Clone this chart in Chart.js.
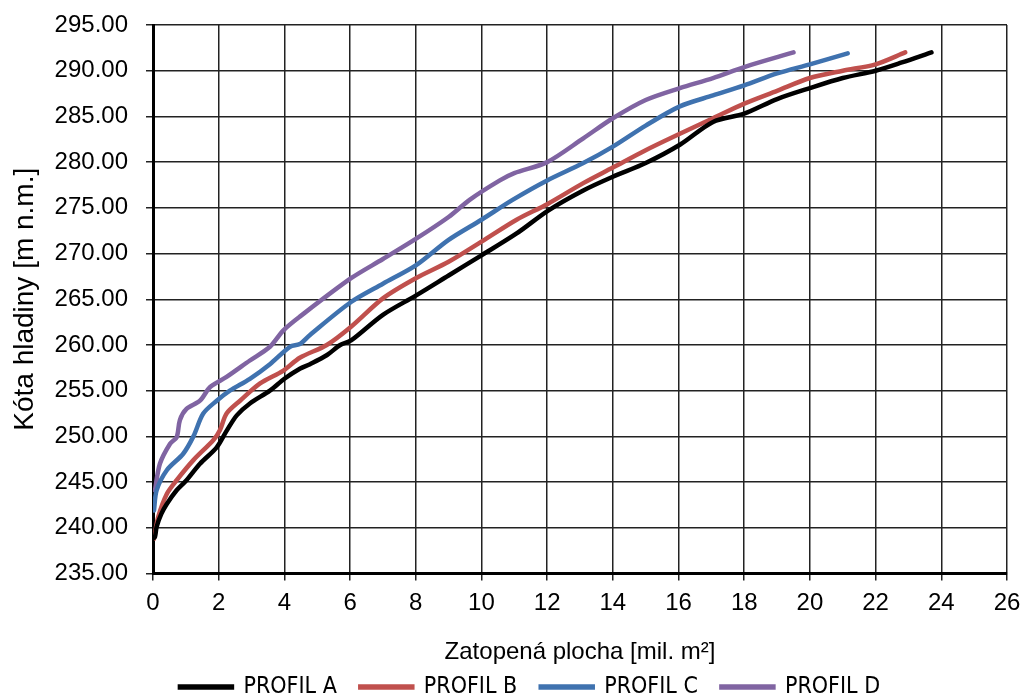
<!DOCTYPE html>
<html>
<head>
<meta charset="utf-8">
<script src="https://cdn.jsdelivr.net/npm/chart.js@4/dist/chart.umd.min.js"></script>
<style>
  html, body { margin: 0; padding: 0; background: #fff; }
  #wrap { width: 1026px; height: 698px; }
</style>
</head>
<body>
<div id="wrap"><canvas id="curveChart" width="1026" height="698"></canvas></div>
<script>
// plocha [mil. m2] a kóta [m n.m.] pro každý profil
const xA = [0.0, 0.06, 0.11, 0.25, 0.42, 0.72, 1.02, 1.43, 1.94, 2.24, 2.55, 2.95, 3.56, 4.0, 4.47, 4.78, 5.3, 5.7, 6.03, 7.0, 8.0, 9.0, 10.0, 11.07, 12.03, 13.1, 14.0, 15.0, 16.04, 17.05, 18.0, 19.0, 20.0, 21.0, 22.0, 22.8, 23.7];
const yA = [238.8, 239.0, 240.1, 241.5, 242.6, 244.1, 245.2, 247.0, 248.8, 250.6, 252.3, 253.6, 255.0, 256.3, 257.4, 257.9, 258.9, 260.0, 260.5, 263.3, 265.4, 267.6, 269.8, 272.2, 274.7, 276.9, 278.4, 279.9, 281.9, 284.4, 285.3, 286.9, 288.1, 289.2, 290.0, 290.9, 292.0];

const xB = [0.03, 0.16, 0.42, 0.72, 1.23, 1.84, 2.04, 2.24, 2.65, 3.26, 3.97, 4.47, 5.29, 6.03, 7.0, 8.0, 9.0, 10.0, 11.07, 12.0, 13.1, 14.0, 15.0, 16.04, 17.05, 18.0, 19.0, 20.0, 21.0, 22.0, 22.9];
const yB = [238.8, 241.2, 243.7, 245.2, 247.4, 249.6, 250.7, 252.5, 253.9, 255.8, 257.2, 258.6, 260.0, 262.0, 265.1, 267.3, 269.1, 271.3, 273.7, 275.4, 277.7, 279.4, 281.3, 283.1, 284.8, 286.4, 287.8, 289.2, 290.0, 290.7, 292.0];

const xC = [0.03, 0.11, 0.42, 0.92, 1.23, 1.53, 1.94, 2.34, 2.95, 3.56, 4.17, 4.47, 4.78, 6.03, 7.0, 8.0, 9.0, 10.0, 10.96, 12.0, 13.1, 14.0, 15.0, 16.04, 17.05, 18.0, 19.0, 20.0, 21.15];
const yC = [241.9, 244.1, 246.3, 248.1, 250.0, 252.5, 253.9, 255.0, 256.3, 257.9, 259.8, 260.1, 261.1, 264.7, 266.7, 268.7, 271.5, 273.7, 275.9, 278.0, 279.9, 281.7, 284.0, 286.1, 287.3, 288.4, 289.7, 290.7, 291.9];

const xD = [0.06, 0.21, 0.52, 0.72, 0.82, 1.02, 1.43, 1.74, 2.24, 2.95, 3.56, 3.97, 4.47, 6.03, 7.0, 8.0, 9.0, 9.65, 10.56, 11.0, 12.0, 13.1, 14.0, 15.0, 16.04, 17.05, 18.0, 19.5];
const yD = [244.1, 247.0, 249.2, 249.9, 251.8, 253.0, 253.9, 255.4, 256.5, 258.3, 259.8, 261.6, 263.1, 267.3, 269.4, 271.6, 274.0, 275.9, 278.0, 278.8, 280.0, 282.6, 284.8, 286.8, 288.1, 289.2, 290.4, 292.0];

const seriesNames = ["PROFIL A", "PROFIL B", "PROFIL C", "PROFIL D"];
const seriesColors = ["#000000", "#C0504D", "#3F72AF", "#8064A2"];

function toPoints(xs, ys) {
  return xs.map((x, i) => ({ x: x, y: ys[i] }));
}

const allSeries = [toPoints(xA, yA), toPoints(xB, yB), toPoints(xC, yC), toPoints(xD, yD)];

const datasets = allSeries.map((pts, i) => ({
  label: seriesNames[i],
  data: pts,
  showLine: true,
  borderColor: seriesColors[i],
  backgroundColor: seriesColors[i],
  borderWidth: 4.5,
  pointRadius: 0,
  tension: 0.3,
  borderCapStyle: "round",
}));

const axisFont = "'Liberation Sans', Arial, sans-serif";

const ctx = document.getElementById("curveChart").getContext("2d");
new Chart(ctx, {
  type: "scatter",
  data: { datasets: datasets },
  options: {
    responsive: false,
    animation: false,
    // left padding pushes the legend centre right; the y scale is narrowed to match
    layout: { padding: { top: 25, right: 19, left: 53, bottom: -10.5 } },
    plugins: {
      tooltip: { enabled: false },
      legend: {
        position: "bottom",
        labels: {
          boxWidth: 52,
          boxHeight: 1,
          padding: 23.5,
          color: "#000",
          font: { family: "'Liberation Sans Narrow', 'DejaVu Sans Condensed', 'Liberation Sans', sans-serif", size: 23 },
        },
      },
    },
    scales: {
      x: {
        type: "linear",
        min: 0,
        max: 26,
        ticks: {
          stepSize: 2,
          color: "#000",
          padding: 8,
          font: { family: axisFont, size: 24 },
        },
        grid: { color: "#222", lineWidth: 1.5, tickLength: 7 },
        border: { color: "#000", width: 3 },
        title: {
          display: true,
          text: "Zatopená plocha [mil. m²]",
          color: "#000",
          padding: { top: 12.8, bottom: -14.9 },
          font: { family: axisFont, size: 24 },
        },
        afterFit: (scale) => { scale.paddingLeft = 0; scale.paddingRight = 0; },
      },
      y: {
        min: 235,
        max: 295,
        ticks: {
          stepSize: 5,
          color: "#000",
          padding: 18,
          callback: (v) => v.toFixed(2),
          font: { family: axisFont, size: 24 },
        },
        grid: { color: "#222", lineWidth: 1.5, tickLength: 7 },
        border: { color: "#000", width: 3 },
        title: {
          display: true,
          text: "Kóta hladiny [m n.m.]",
          color: "#000",
          padding: { top: -44.8, bottom: 4 },
          font: { family: axisFont, size: 28 },
        },
        afterFit: (scale) => {
          scale.width = 100;
          scale.paddingTop = 0;
          scale.paddingBottom = 0;
        },
      },
    },
  },
});
</script>
</body>
</html>
